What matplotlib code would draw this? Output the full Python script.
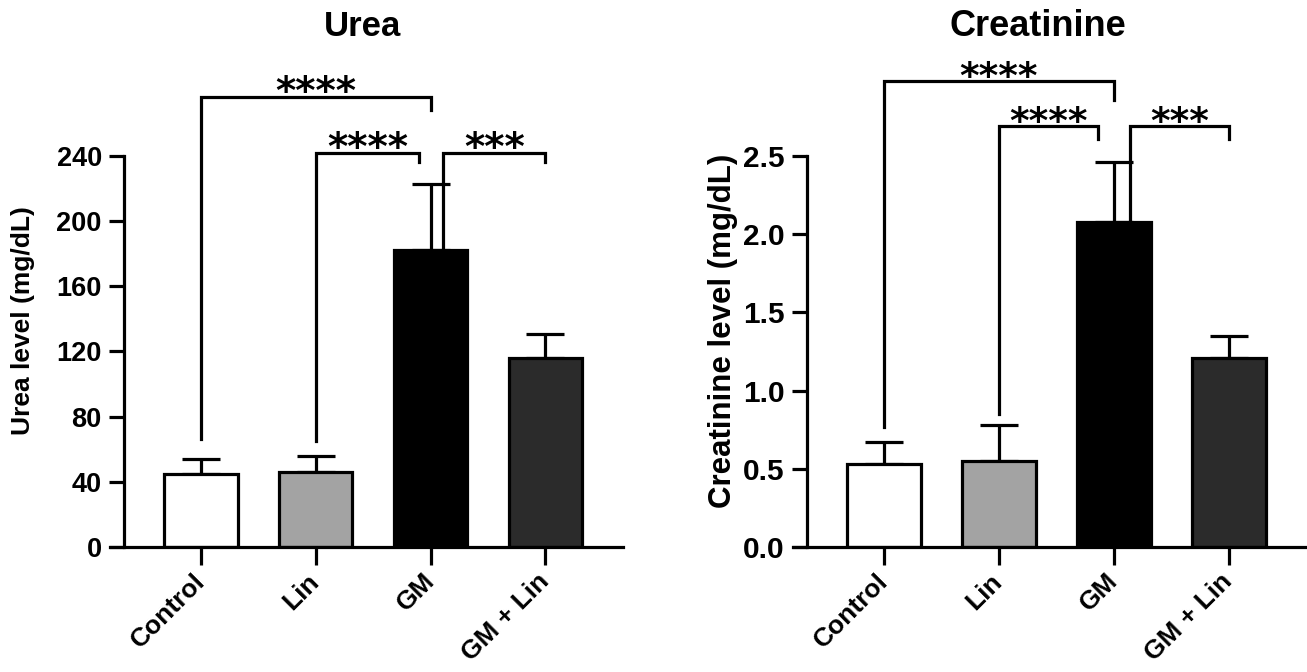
import numpy as np
import matplotlib.pyplot as plt

#%% data
groups = ["Control", "Lin", "GM", "GM + Lin"]
bar_colors = ["white", "#a3a3a3", "black", "#2b2b2b"]

urea_mean = [44.5, 46, 182, 116]
urea_sd = [9.5, 10, 41, 15]

creat_mean = [0.53, 0.55, 2.08, 1.21]
creat_sd = [0.14, 0.23, 0.38, 0.14]

# comparisons: (x1, x2, bracket y, left leg end, right leg end, label)
urea_sig = [
    (0, 2, 276, 66, 268, "****"),
    (1, 1.90, 242, 65, 236, "****"),
    (2.11, 3, 242, 141, 236, "***"),
]
creat_sig = [
    (0, 2, 2.98, 0.77, 2.86, "****"),
    (1, 1.86, 2.69, 0.85, 2.61, "****"),
    (2.14, 3, 2.69, 1.47, 2.61, "***"),
]

plt.rcParams["font.family"] = ["Liberation Sans", "DejaVu Sans"]
plt.rcParams["font.weight"] = "bold"
LW = 2.3


#%%
def bar_panel(ax, means, sds, sig, ymax, step, fs_tick, fs_x, star_fs):
    x = np.arange(len(groups))
    ax.bar(x, means, width=0.64, color=bar_colors, edgecolor="black",
           linewidth=LW, zorder=2)
    ax.errorbar(x, means, yerr=[np.zeros(len(sds)), sds], fmt="none",
                ecolor="black", elinewidth=LW, capsize=14, capthick=LW,
                zorder=1)

    # significance brackets
    for x1, x2, y, y1, y2, lab in sig:
        ax.plot([x1, x1, x2, x2], [y1, y, y, y2], color="black", lw=LW,
                clip_on=False, solid_joinstyle="miter")
        ax.annotate(lab, ((x1 + x2) / 2, y), xytext=(0, -5),
                    textcoords="offset points", ha="center", va="baseline",
                    fontsize=star_fs, fontweight="bold",
                    family="DejaVu Sans", annotation_clip=False)

    ax.set_xlim(-0.79, 3.68)
    ax.set_ylim(0, ymax)
    ax.spines["left"].set_position(("data", -0.67))
    ax.set_yticks(np.arange(0, ymax + step / 2, step))
    if step < 1:
        ax.set_yticklabels(["{:.1f}".format(v) for v in ax.get_yticks()])
    ax.set_xticks(x)
    ax.set_xticklabels(groups, rotation=45, ha="right", va="center",
                       rotation_mode="anchor", fontsize=fs_x,
                       fontweight="bold")
    ax.spines["top"].set_visible(False)
    ax.spines["right"].set_visible(False)
    ax.spines["left"].set_linewidth(LW)
    ax.spines["bottom"].set_linewidth(LW)
    ax.tick_params(axis="y", length=11, width=LW, labelsize=fs_tick, pad=5)
    ax.tick_params(axis="x", length=13, width=LW, pad=9)


fig = plt.figure(figsize=(13.07, 6.72), dpi=100)
ax1 = fig.add_axes([0.0844, 0.186, 0.3925, 0.582])
ax2 = fig.add_axes([0.6067, 0.186, 0.3933, 0.582])

bar_panel(ax1, urea_mean, urea_sd, urea_sig, 240, 40, 19.5, 19, 28)
bar_panel(ax2, creat_mean, creat_sd, creat_sig, 2.5, 0.5, 21.5, 19, 27)

# y labels and titles
fig.text(23 / 1307, 1 - 321 / 672, "Urea level (mg/dL)", rotation=90,
         ha="center", va="center", fontsize=19, fontweight="bold")
fig.text(723 / 1307, 1 - 331 / 672, "Creatinine level (mg/dL)", rotation=90,
         ha="center", va="center", fontsize=22.5, fontweight="bold")
fig.text(363 / 1307, 1 - 27 / 672, "Urea", ha="center", va="center",
         fontsize=25, fontweight="bold")
fig.text(1038 / 1307, 1 - 26 / 672, "Creatinine", ha="center", va="center",
         fontsize=26, fontweight="bold")

fig.savefig("out.png", dpi=100)
